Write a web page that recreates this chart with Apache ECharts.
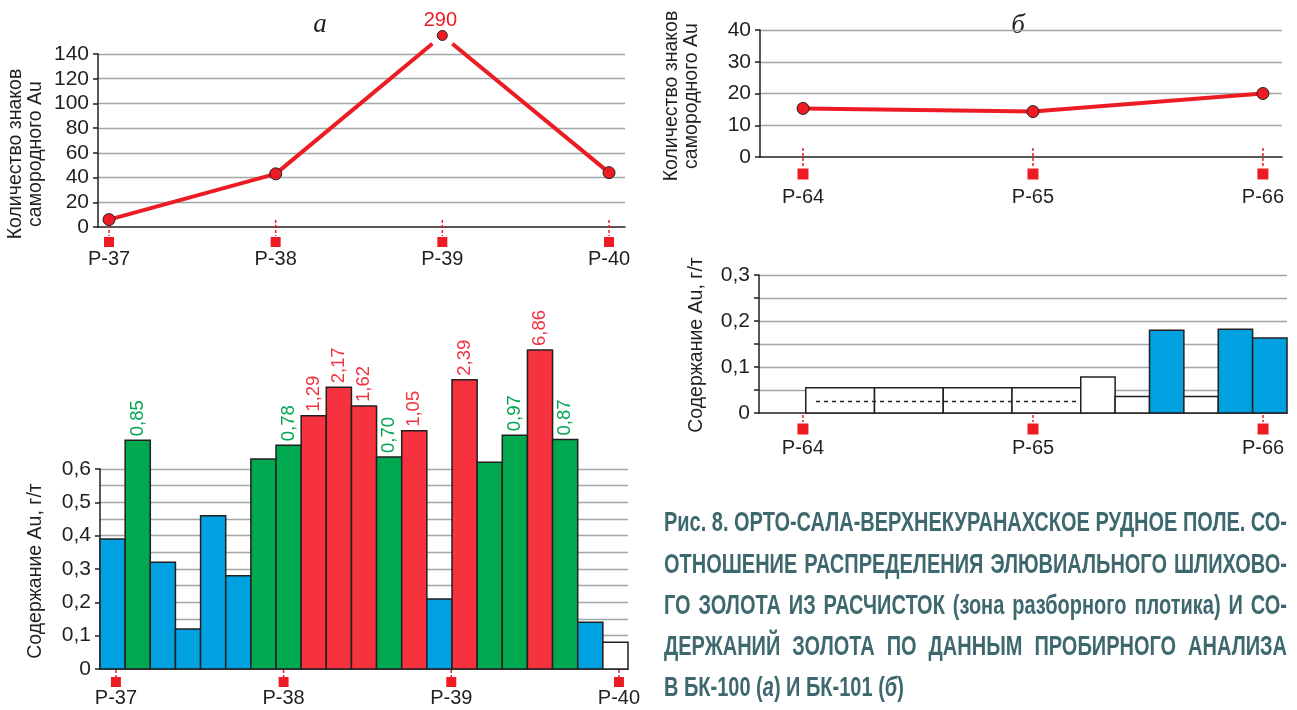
<!DOCTYPE html>
<html>
<head>
<meta charset="utf-8">
<script src="https://cdn.jsdelivr.net/npm/echarts@6/dist/echarts.min.js"></script>
<style>
  html, body { margin: 0; padding: 0; background: #fff; }
  #chart { width: 1297px; height: 710px; }
</style>
</head>
<body>
<div id="chart"></div>
<script>
// ---- Data -------------------------------------------------------------
// Trench profiles along each line
const profilesA = ['Р-37', 'Р-38', 'Р-39', 'Р-40'];
const profilesB = ['Р-64', 'Р-65', 'Р-66'];

// Number of native gold grains per profile
const grainsA = [6, 43, 290, 44];
const grainsB = [15.3, 14.3, 20];

// Fire-assay Au, g/t, БК-100 samples in order along the line
const assayA = [0.39, 0.85, 0.32, 0.12, 0.46, 0.28, 0.63, 0.78, 1.29, 2.17, 1.62,
                0.70, 1.05, 0.21, 2.39, 0.62, 0.97, 6.86, 0.87, 0.14, 0.08];
const gradeA = ['low', 'mid', 'low', 'low', 'low', 'low', 'mid', 'mid', 'high', 'high', 'high',
                'mid', 'high', 'low', 'high', 'mid', 'mid', 'high', 'mid', 'low', 'trace'];
const samplesA = assayA.map((_, i) => String(i + 1));

// БК-101 sample intervals (m from the first sample) and Au, g/t
const intervalFromB = [0, 2, 4, 6, 8, 9, 10, 11, 12, 13];
const intervalToB   = [2, 4, 6, 8, 9, 10, 11, 12, 13, 14];
const assayB = [0.055, 0.055, 0.055, 0.055, 0.078, 0.036, 0.18, 0.036, 0.182, 0.163];
const gradeB = ['trace', 'trace', 'trace', 'trace', 'trace', 'trace', 'low', 'trace', 'low', 'low'];
// Dotted level drawn across the first samples
const dottedSpanB = [0.3, 7.9];
const dottedLevelB = 0.025;

// Axis ticks: min, max, step
const grainTicksA = [0, 140, 20];
const grainTicksB = [0, 40, 10];
const assayTicksA = [0, 0.6, 0.1];
const assayTicksB = [0, 0.3, 0.1];

// Broken scale above the top of the БК-100 assay axis (value -> plotted level)
const breakIn  = [0.63, 0.70, 0.80, 1.0, 1.3, 1.6, 2.2, 2.4, 7.0];
const breakOut = [0.63, 0.636, 0.68, 0.705, 0.762, 0.787, 0.848, 0.869, 0.96];
// Grain counts beyond the axis top are shown just above it
const grainOverflowLevelA = 155;

const captionLines = [
  'Рис. 8. ОРТО-САЛА-ВЕРХНЕКУРАНАХСКОЕ РУДНОЕ ПОЛЕ. СО-',
  'ОТНОШЕНИЕ РАСПРЕДЕЛЕНИЯ ЭЛЮВИАЛЬНОГО ШЛИХОВО-',
  'ГО ЗОЛОТА ИЗ РАСЧИСТОК (зона разборного плотика) И СО-',
  'ДЕРЖАНИЙ ЗОЛОТА ПО ДАННЫМ ПРОБИРНОГО АНАЛИЗА'
];
const captionLast = [['В БК-100 (', false], ['а', true], [') И БК-101 (', false], ['б', true], [')', false]];

// ---- Styles -----------------------------------------------------------
const INK = '#231f20';
const GRID = '#9ea8a8';
const RED = '#ed1c24';
const FILL = { low: '#00a1e0', mid: '#00a94f', high: '#f6323e', trace: '#ffffff' };
const LABEL = { mid: '#00a651', high: '#ef3340' };
const SANS = '"Liberation Sans", Arial, sans-serif';
const TICK_FONT = 21;

function squash(v) {
  if (v <= breakIn[0]) return v;
  for (let k = 1; k < breakIn.length; k++) {
    if (v <= breakIn[k]) {
      const t = (v - breakIn[k - 1]) / (breakIn[k] - breakIn[k - 1]);
      return breakOut[k - 1] + t * (breakOut[k] - breakOut[k - 1]);
    }
  }
  return breakOut[breakOut.length - 1];
}

const comma = v => (v === 0 ? '0' : (+v).toFixed(1).replace('.', ','));

function valueAxis(gridIndex, ticks, opts) {
  return Object.assign({
    gridIndex, type: 'value', min: ticks[0], max: ticks[1], interval: ticks[2],
    axisLine: { show: true, onZero: false, lineStyle: { color: INK, width: 1.5 } },
    axisTick: { show: true, length: 5, lineStyle: { color: INK, width: 1.5 } },
    axisLabel: { color: INK, fontSize: TICK_FONT, fontFamily: SANS, margin: 9 },
    splitLine: { show: true, showMinLine: false, lineStyle: { color: GRID, width: 1.3 } }
  }, opts || {});
}

function baseXAxis(gridIndex, opts) {
  return Object.assign({
    gridIndex,
    axisLine: { show: true, onZero: false, lineStyle: { color: INK, width: 1.5 } },
    axisTick: { show: false }, axisLabel: { show: false }, splitLine: { show: false }
  }, opts);
}

// Profile marker: short dashed stub, red square and the profile name
function markerRender(names, m) {
  return function (params, api) {
    const p = api.coord([api.value(0), 0]);
    const h = m.size / 2;
    return {
      type: 'group',
      children: [
        { type: 'line', shape: { x1: p[0], y1: p[1] + m.dash[0], x2: p[0], y2: p[1] + m.dash[1] },
          style: { stroke: RED, lineWidth: 1.5, lineDash: [3, 2] } },
        { type: 'rect', shape: { x: p[0] - h, y: p[1] + m.sq - h, width: m.size, height: m.size },
          style: { fill: RED } },
        { type: 'text', x: p[0], y: p[1] + m.label,
          style: { text: names[params.dataIndex], fill: INK, font: '20px ' + SANS,
                   align: 'center', verticalAlign: 'middle' } }
      ]
    };
  };
}

// Polyline with dots; values above the axis top are drawn at the overflow level with a break
function lineRender(values, axisMax, overflowLevel) {
  const GAP = 13;
  const shown = v => (v > axisMax ? overflowLevel : v);
  return function (params, api) {
    const i = params.dataIndex;
    const p = api.coord([i, shown(values[i])]);
    const children = [];
    if (i < values.length - 1) {
      const q = api.coord([i + 1, shown(values[i + 1])]);
      const dx = q[0] - p[0], dy = q[1] - p[1], len = Math.hypot(dx, dy);
      let a = p, b = q;
      if (values[i] > axisMax) a = [p[0] + dx / len * GAP, p[1] + dy / len * GAP];
      if (values[i + 1] > axisMax) b = [q[0] - dx / len * GAP, q[1] - dy / len * GAP];
      children.push({ type: 'line', shape: { x1: a[0], y1: a[1], x2: b[0], y2: b[1] },
        style: { stroke: RED, lineWidth: 4 } });
    }
    const over = values[i] > axisMax;
    children.push({ type: 'circle', shape: { cx: p[0], cy: p[1], r: over ? 5 : 6 },
      style: { fill: RED, stroke: INK, lineWidth: 1 } });
    if (over) {
      children.push({ type: 'text', x: p[0] - 2, y: p[1] - 15,
        style: { text: String(values[i]), fill: RED, font: '20px ' + SANS, align: 'center', verticalAlign: 'middle' } });
    }
    return { type: 'group', children };
  };
}

// ---- Caption, justified line by line ---------------------------------
const CAP_FONT = 'bold 28px ' + SANS;
const CAP_ITALIC = 'italic bold 28px ' + SANS;
const CAP_LEFT = 664, CAP_WIDTH = 623;
const CAP_Y = [523, 565, 606, 647, 688];
const CAP_COLOR = '#3d686d';
const measure = (() => {
  const ctx = document.createElement('canvas').getContext('2d');
  return (t, f) => { ctx.font = f; return ctx.measureText(t).width; };
})();
const capScale = Math.min(...captionLines.map(l => CAP_WIDTH / measure(l, CAP_FONT)));
const captionEls = [];
captionLines.forEach((line, li) => {
  const words = line.split(' ');
  const widths = words.map(w => measure(w, CAP_FONT) * capScale);
  const total = widths.reduce((s, w) => s + w, 0);
  const gap = words.length > 1 ? (CAP_WIDTH - total) / (words.length - 1) : 0;
  let x = CAP_LEFT;
  words.forEach((w, k) => {
    captionEls.push({ type: 'text', x, y: CAP_Y[li], scaleX: capScale,
      style: { text: w, font: CAP_FONT, fill: CAP_COLOR, align: 'left', verticalAlign: 'middle' } });
    x += widths[k] + gap;
  });
});
{
  let x = CAP_LEFT;
  captionLast.forEach(([t, it]) => {
    const f = it ? CAP_ITALIC : CAP_FONT;
    captionEls.push({ type: 'text', x, y: CAP_Y[4], scaleX: capScale,
      style: { text: t, font: f, fill: CAP_COLOR, align: 'left', verticalAlign: 'middle' } });
    x += measure(t, f) * capScale;
  });
}

function axisName(text, x, y) {
  return { type: 'text', x, y, rotation: Math.PI / 2,
    style: { text, font: '19.5px ' + SANS, fill: INK, align: 'center', verticalAlign: 'middle', lineHeight: 20 } };
}

// ---- Chart ------------------------------------------------------------
const chart = echarts.init(document.getElementById('chart'), null, { renderer: 'canvas' });

chart.setOption({
  animation: false,
  backgroundColor: '#fff',
  grid: [
    { left: 98, top: 54, width: 527, height: 173 },
    { left: 100, top: 469, width: 528, height: 200 },
    { left: 760, top: 30, width: 522, height: 127 },
    { left: 759, top: 275, width: 528, height: 138 }
  ],
  xAxis: [
    baseXAxis(0, { type: 'value', min: -0.066, max: 3.096 }),
    baseXAxis(1, { type: 'category', data: samplesA, boundaryGap: true }),
    { gridIndex: 1, type: 'value', min: -0.095, max: 3.054, show: false },
    baseXAxis(2, { type: 'value', min: -0.187, max: 2.083 }),
    baseXAxis(3, { type: 'value', min: -1.36, max: 14 }),
    { gridIndex: 3, type: 'value', min: -0.191, max: 2.104, show: false }
  ],
  yAxis: [
    valueAxis(0, grainTicksA),
    valueAxis(1, assayTicksA, {
      axisLabel: { color: INK, fontSize: TICK_FONT, fontFamily: SANS, margin: 9, formatter: comma },
      minorTick: { show: false, splitNumber: 2 },
      minorSplitLine: { show: true, lineStyle: { color: GRID, width: 1.3 } }
    }),
    valueAxis(2, grainTicksB),
    valueAxis(3, assayTicksB, {
      axisLabel: { color: INK, fontSize: TICK_FONT, fontFamily: SANS, margin: 9, formatter: comma },
      minorTick: { show: true, splitNumber: 2, length: 5, lineStyle: { color: INK, width: 1.5 } },
      minorSplitLine: { show: true, lineStyle: { color: GRID, width: 1.3 } }
    })
  ],
  graphic: [
    { type: 'text', x: 320, y: 25,
      style: { text: 'а', font: 'italic 27px "Liberation Serif", serif', fill: INK, align: 'center', verticalAlign: 'middle' } },
    { type: 'text', x: 1018, y: 26,
      style: { text: 'б', font: 'italic 27px "Liberation Serif", serif', fill: INK, align: 'center', verticalAlign: 'middle',
               backgroundColor: '#fff', padding: [2, 16] } },
    axisName('Количество знаков\nсамородного Au', 26, 154),
    axisName('Количество знаков\nсамородного Au', 682, 96),
    axisName('Содержание Au, г/т', 36, 571),
    axisName('Содержание Au, г/т', 697, 345)
  ].concat(captionEls),
  series: [
    // а: grain counts
    { type: 'custom', coordinateSystem: 'cartesian2d', xAxisIndex: 0, yAxisIndex: 0,
      data: grainsA.map((v, i) => [i, v]), encode: { x: 0, y: 1 },
      renderItem: lineRender(grainsA, grainTicksA[1], grainOverflowLevelA), z: 5 },
    { type: 'custom', coordinateSystem: 'cartesian2d', xAxisIndex: 0, yAxisIndex: 0,
      data: profilesA.map((_, i) => [i, 0]), encode: { x: 0, y: 1 },
      renderItem: markerRender(profilesA, { dash: [-7, 9], sq: 15, size: 10, label: 32 }) },
    // а: assay bars
    { type: 'custom', coordinateSystem: 'cartesian2d', xAxisIndex: 1, yAxisIndex: 1,
      data: assayA.map((v, i) => [i, v]), encode: { x: 0, y: 1 },
      renderItem: function (params, api) {
        const i = params.dataIndex, v = assayA[i], g = gradeA[i];
        const base = api.coord([i, 0]);
        const top = api.coord([i, squash(v)]);
        const w = api.size([1, 0])[0];
        const children = [{
          type: 'rect', shape: { x: base[0] - w / 2, y: top[1], width: w, height: base[1] - top[1] },
          style: { fill: FILL[g], stroke: INK, lineWidth: 1.5 }
        }];
        if (v > breakIn[0]) {
          children.push({ type: 'text', x: base[0], y: top[1] - 4, rotation: Math.PI / 2,
            style: { text: v.toFixed(2).replace('.', ','), fill: LABEL[g] || INK, font: '18.5px ' + SANS,
                     align: 'left', verticalAlign: 'middle' } });
        }
        return { type: 'group', children };
      } },
    { type: 'custom', coordinateSystem: 'cartesian2d', xAxisIndex: 2, yAxisIndex: 1,
      data: profilesA.map((_, i) => [i, 0]), encode: { x: 0, y: 1 },
      renderItem: markerRender(profilesA, { dash: [1, 8], sq: 13, size: 10, label: 29 }) },
    // б: grain counts
    { type: 'custom', coordinateSystem: 'cartesian2d', xAxisIndex: 3, yAxisIndex: 2,
      data: grainsB.map((v, i) => [i, v]), encode: { x: 0, y: 1 },
      renderItem: lineRender(grainsB, grainTicksB[1], grainTicksB[1]), z: 5 },
    { type: 'custom', coordinateSystem: 'cartesian2d', xAxisIndex: 3, yAxisIndex: 2,
      data: profilesB.map((_, i) => [i, 0]), encode: { x: 0, y: 1 },
      renderItem: markerRender(profilesB, { dash: [-9, 9], sq: 17, size: 11, label: 40 }) },
    // б: assay intervals
    { type: 'custom', coordinateSystem: 'cartesian2d', xAxisIndex: 4, yAxisIndex: 3,
      data: intervalFromB.map((f, i) => [f, intervalToB[i], assayB[i]]), encode: { x: [0, 1], y: 2 },
      renderItem: function (params, api) {
        const p0 = api.coord([api.value(0), 0]);
        const p1 = api.coord([api.value(1), api.value(2)]);
        return { type: 'rect', shape: { x: p0[0], y: p1[1], width: p1[0] - p0[0], height: p0[1] - p1[1] },
          style: { fill: FILL[gradeB[params.dataIndex]], stroke: INK, lineWidth: 1.5 } };
      } },
    { type: 'line', xAxisIndex: 4, yAxisIndex: 3, symbol: 'none', silent: true,
      data: [[dottedSpanB[0], dottedLevelB], [dottedSpanB[1], dottedLevelB]],
      lineStyle: { color: INK, width: 1.5, type: [4, 4] }, z: 6 },
    { type: 'custom', coordinateSystem: 'cartesian2d', xAxisIndex: 5, yAxisIndex: 3,
      data: profilesB.map((_, i) => [i, 0]), encode: { x: 0, y: 1 },
      renderItem: markerRender(profilesB, { dash: [2, 9], sq: 16, size: 11, label: 35 }) }
  ]
});
</script>
</body>
</html>
